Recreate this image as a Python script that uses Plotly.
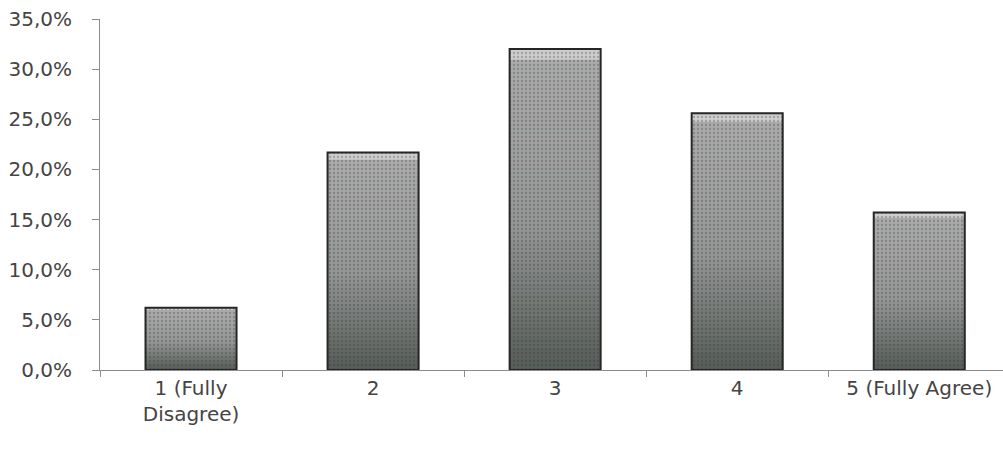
import plotly.graph_objects as go

# Survey response distribution
categories = ["1 (Fully<br>Disagree)", "2", "3", "4", "5 (Fully Agree)"]
shares = [6.2, 21.7, 32.0, 25.6, 15.7]
y_ticks = [0, 5, 10, 15, 20, 25, 30, 35]
y_tick_labels = ["0,0%", "5,0%", "10,0%", "15,0%", "20,0%", "25,0%", "30,0%", "35,0%"]


def lerp(c0, c1, t):
    return tuple(round(a + (b - a) * t) for a, b in zip(c0, c1))


# vertical shading: darker grey-green at the foot, lighter grey at the top
dark = (86, 92, 88)
mid = (148, 150, 149)
light = (172, 172, 172)
n_slices = 30

fig = go.Figure()
for k in range(n_slices):
    t = (k + 0.5) / n_slices
    if t < 0.45:
        col = lerp(dark, mid, t / 0.45)
    else:
        col = lerp(mid, light, (t - 0.45) / 0.55)
    if k == n_slices - 1:
        col = (205, 205, 205)
    # each layer runs from its own base up to the bar top; higher layers paint over
    fig.add_trace(go.Bar(
        x=categories,
        y=[v * (n_slices - k) / n_slices for v in shares],
        base=[v * k / n_slices for v in shares],
        width=0.5,
        marker=dict(color="rgb(%d,%d,%d)" % col, line=dict(width=0)),
        hoverinfo="skip",
        showlegend=False,
    ))

# dotted texture and bar outlines
fig.add_trace(go.Bar(
    x=categories,
    y=shares,
    width=0.5,
    marker=dict(
        color="rgba(0,0,0,0)",
        line=dict(color="#262626", width=2),
        pattern=dict(shape=".", size=4, solidity=0.25,
                     fgcolor="rgba(50,50,50,0.3)", bgcolor="rgba(0,0,0,0)",
                     fillmode="replace"),
    ),
    showlegend=False,
))

fig.update_layout(
    barmode="overlay",
    width=1003,
    height=460,
    margin=dict(l=100, r=0, t=19, b=90),
    paper_bgcolor="white",
    plot_bgcolor="white",
    font=dict(family="'DejaVu Sans', sans-serif", size=20, color="#444444"),
    xaxis=dict(
        range=[-0.5, 4.46],
        showgrid=False,
        showline=True,
        linecolor="#8c8c8c",
        linewidth=1,
        ticks="outside",
        tickson="boundaries",
        ticklen=6,
        tickcolor="#8c8c8c",
    ),
    yaxis=dict(
        range=[0, 35],
        tickvals=y_ticks,
        ticktext=y_tick_labels,
        showgrid=False,
        zeroline=False,
        showline=True,
        linecolor="#8c8c8c",
        linewidth=1,
        ticks="outside",
        ticklen=7,
        tickcolor="#8c8c8c",
        ticklabelstandoff=16,
    ),
)

fig.write_html("out.html")
